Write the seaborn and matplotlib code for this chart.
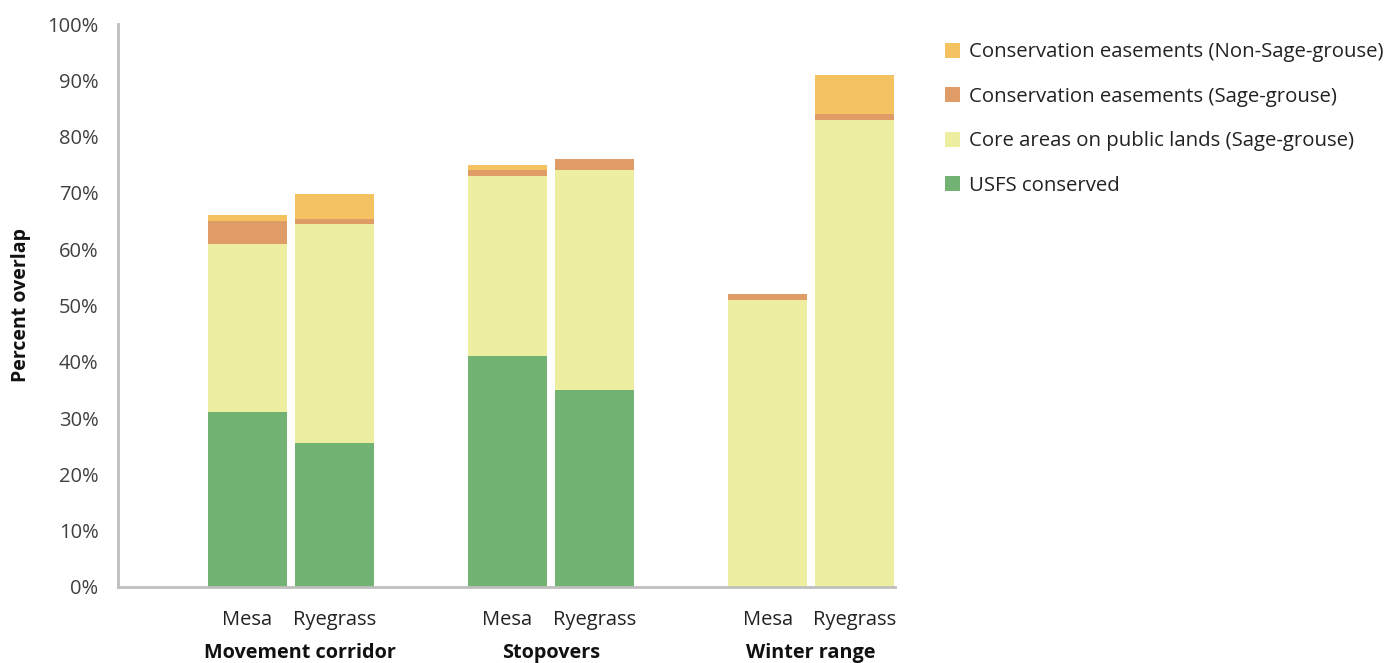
import matplotlib
matplotlib.use("Agg")
import matplotlib.pyplot as plt
import matplotlib.transforms as mtransforms
from matplotlib.patches import Patch
import seaborn as sns
import numpy as np
import pandas as pd

# ---- data ----
groups = ["Movement corridor", "Stopovers", "Winter range"]
sites = ["Mesa", "Ryegrass"]
positions = [0, 1, 3, 4, 6, 7]
site_labels = ["Mesa", "Ryegrass", "Mesa", "Ryegrass", "Mesa", "Ryegrass"]
usfs = [31, 25.6, 41, 35, 0, 0]
core = [30, 38.9, 32, 39, 51, 83]
ce_sage = [4, 0.9, 1, 2, 1, 1]
ce_nonsage = [1, 4.4, 1, 0, 0, 7]

series_names = ["USFS conserved",
                "Core areas on public lands (Sage-grouse)",
                "Conservation easements (Sage-grouse)",
                "Conservation easements (Non-Sage-grouse)"]
colors = ["#72B373", "#EDEEA0", "#E09C66", "#F5C262"]

sns.set_theme(style="white")
plt.rcParams['font.family'] = ['Open Sans', 'DejaVu Sans']

fig = plt.figure(figsize=(13.96, 6.63), dpi=100)
ax = fig.add_axes([118/1396, 1-587/663, (895-118)/1396, (587-24)/663])

vals = [usfs, core, ce_sage, ce_nonsage]
cum = np.cumsum(np.array(vals), axis=0)

# draw tallest (cumulative) first so lower layers overlay
for i in range(3, -1, -1):
    df = pd.DataFrame({"x": positions, "y": cum[i]})
    sns.barplot(data=df, x="x", y="y", native_scale=True, color=colors[i],
                saturation=1, width=0.91, ax=ax, linewidth=0, edgecolor="none")

ax.set_ylim(0, 100)
ax.set_xlim(-1.494, 7.47)
ax.set_yticks(np.arange(0, 101, 10))
ax.set_yticklabels([f"{v}%" for v in range(0, 101, 10)], fontsize=14.5, color="#404040")
ax.set_xticks(positions)
ax.set_xticklabels(site_labels, fontsize=14.5, color="#222222")
ax.tick_params(axis="x", length=0, pad=16.5)
ax.tick_params(axis="y", length=6, width=1.5, color="#BFBFBF", direction="out", pad=8)
ax.set_xlabel("")
ax.set_ylabel("Percent overlap", fontsize=14, fontweight="bold", color="#111111", labelpad=12)
for s in ["top", "right"]:
    ax.spines[s].set_visible(False)
for s in ["left", "bottom"]:
    ax.spines[s].set_color("#BFBFBF")
    ax.spines[s].set_linewidth(2)

# group labels
trans = mtransforms.blended_transform_factory(ax.transData, fig.transFigure)
group_centers = [0.6, 3.5, 6.5]
for g, c in zip(groups, group_centers):
    ax.text(c, 1-653/663, g, transform=trans, ha="center", va="center",
            fontsize=14.3, fontweight="bold", color="#111111")

# legend
handles = [Patch(facecolor=colors[i], edgecolor="none", label=series_names[i]) for i in range(3, -1, -1)]
fig.legend(handles=handles, loc="upper left", bbox_to_anchor=(927/1396, 1-24/663),
           frameon=False, fontsize=14.7, handlelength=0.74, handleheight=0.74,
           handletextpad=0.4, labelspacing=1.2, labelcolor="#222222")

fig.savefig("out.png", dpi=100)
